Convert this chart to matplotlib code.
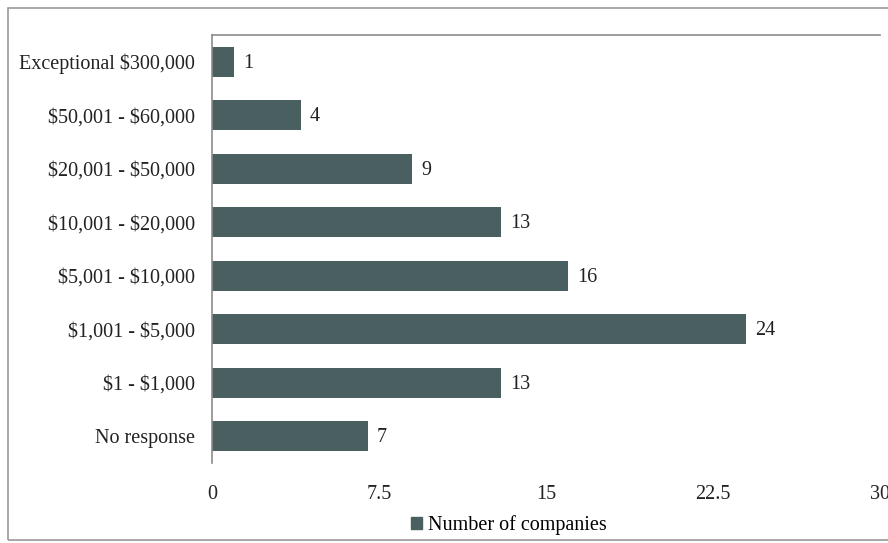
import matplotlib.pyplot as plt
from matplotlib.patches import Rectangle, Patch

categories = ['No response', '$1 - $1,000', '$1,001 - $5,000', '$5,001 - $10,000',
              '$10,001 - $20,000', '$20,001 - $50,000', '$50,001 - $60,000',
              'Exceptional $300,000']
companies = [7, 13, 24, 16, 13, 9, 4, 1]
x_ticks = [0, 7.5, 15, 22.5, 30]
x_tick_labels = ['0', '7.5', '15', '22.5', '30']

bar_color = '#4a5f5f'
text_color = '#222222'
plt.rcParams['font.family'] = ['Liberation Serif', 'DejaVu Serif']
plt.rcParams['text.parse_math'] = False

fig = plt.figure(figsize=(8.88, 5.43), dpi=100)
ax = fig.add_axes([212 / 888, 1 - 463 / 543, 668 / 888, 428 / 543])

# outer frame around the whole chart
fig.patches.append(Rectangle((8 / 888, 3 / 543), 1.0, 532 / 543, transform=fig.transFigure,
                             fill=False, edgecolor='#9a9a9a', linewidth=1.2))

y = range(len(categories))
ax.barh(y, companies, height=0.56, color=bar_color)
for yi, v in zip(y, companies):
    ax.text(v + 0.4, yi - 0.03, str(v), va='center', ha='left', fontsize=14.5, color=text_color)

ax.set_xlim(0, 30)
ax.set_ylim(-0.5, len(categories) - 0.5)
ax.set_yticks(list(y))
ax.set_yticklabels(categories, fontsize=14.5, color=text_color)
ax.set_xticks(x_ticks)
ax.set_xticklabels(x_tick_labels, fontsize=14.5, color=text_color)
ax.tick_params(length=0)
ax.tick_params(axis='y', pad=12)
ax.tick_params(axis='x', pad=16)

for side in ['right', 'bottom']:
    ax.spines[side].set_visible(False)
for side in ['left', 'top']:
    ax.spines[side].set_color('#8c8c8c')
    ax.spines[side].set_linewidth(1.2)

fig.legend(handles=[Patch(color=bar_color, label='Number of companies')],
           loc='center', bbox_to_anchor=(509 / 888, 1 - 525 / 543), frameon=False,
           fontsize=14.5, handlelength=0.55, handleheight=0.55, handletextpad=0.3)

fig.savefig('out.png', dpi=100)
